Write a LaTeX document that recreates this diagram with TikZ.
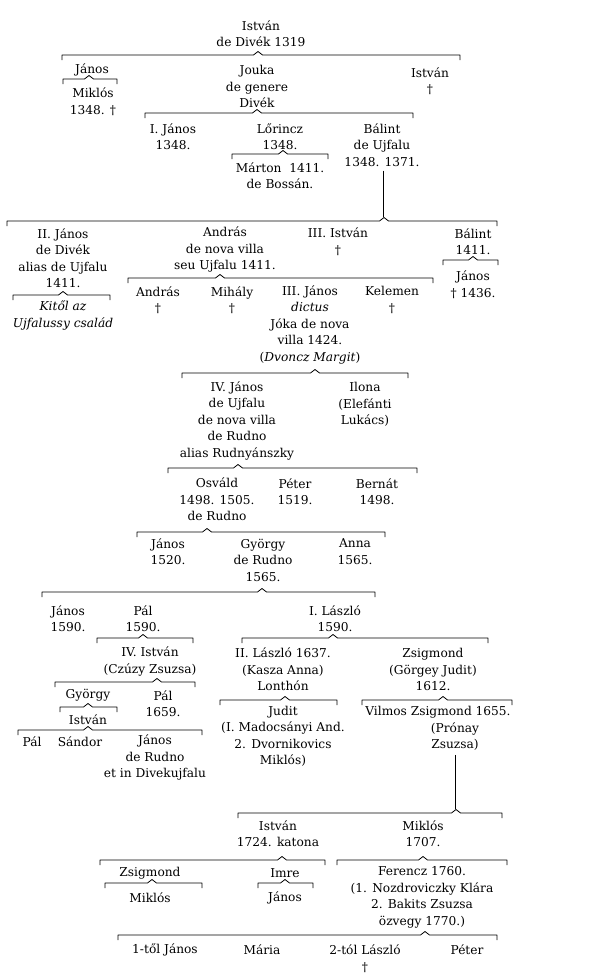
\documentclass[tikz,border=0pt]{standalone}
\usepackage{fontspec}
\setmainfont{DejaVu Serif}
\usepackage{tikz}
\newcommand\famb[4]{\draw[brk] (#1,#4+5) -- (#1,#4) -- (#3-4.5,#4) -- (#3,#4-3.5) -- (#3+4.5,#4) -- (#2,#4) -- (#2,#4+5);}
\tikzset{
  p/.style={inner sep=0pt, align=center, font=\fontsize{12.2}{16.5}\selectfont},
  brk/.style={line width=0.8pt, line join=round},
}
\begin{document}
\begin{tikzpicture}[x=1pt,y=-1pt]
\useasboundingbox[fill=white] (0,0) rectangle (613,980);
% generation 1
\node[p] (n1) at (261,33.5) {István\\de Divék 1319};
\famb{62}{460}{258}{55}
\node[p] (jan1) at (92,70) {János};
\famb{63}{117}{89}{79}
\node[p] (mik1) at (93,101.5) {Miklós\\1348. \textdagger};
\node[p] (jouka) at (257,86.5) {Jouka\\de genere\\Divék};
\node[p] (ist2) at (430,81) {István\\\textdagger};
\famb{145}{413}{257}{113}
\node[p] (ijan) at (173,136.5) {I. János\\1348.};
\node[p] (lor) at (280,136.5) {Lőrincz\\1348.};
\famb{232}{328}{283}{154}
\node[p] (mar) at (280,175.5) {Márton\ \ 1411.\\de Bossán.};
\node[p] (bal) at (382,145) {Bálint\\de Ujfalu\\1348. 1371.};
\coordinate (v1) at (383,217);
\draw[brk] (bal.south -| v1) ++(0,4) -- (v1);
\famb{7}{497}{384}{221}
\node[p] (iijan) at (63,258) {II. János\\de Divék\\alias de Ujfalu\\1411.};
\famb{13}{110}{63}{295}
\node[p,font=\fontsize{12.2}{16.5}\selectfont\itshape] (kitol) at (63,315.5) {Kitől az\\Ujfalussy család};
\node[p] (andr) at (225,249.5) {András\\de nova villa\\seu Ujfalu 1411.};
\famb{128}{433}{220}{278}
\node[p] (iiiist) at (338,241.5) {III. István\\\textdagger};
\node[p] (bal2) at (473,241.5) {Bálint\\1411.};
\famb{443}{498}{473}{260}
\node[p] (jan3) at (473,284.5) {János\\\textdagger{} 1436.};
\node[p] (andr2) at (158,300) {András\\\textdagger};
\node[p] (mih) at (232,300) {Mihály\\\textdagger};
\node[p] (iiijan) at (310,324.5) {III. János\\\textit{dictus}\\Jóka de nova\\villa 1424.\\(\textit{Dvoncz Margit})};
\node[p] (kel) at (392,300) {Kelemen\\\textdagger};
\famb{182}{408}{315}{373}
\node[p] (ivjan) at (237,420.5) {IV. János\\de Ujfalu\\de nova villa\\de Rudno\\alias Rudnyánszky};
\node[p] (ilona) at (365,404.5) {Ilona\\(Elefánti\\Lukács)};
\famb{168}{417}{238}{468}
\node[p] (osv) at (217,499.5) {Osváld\\1498. 1505.\\de Rudno};
\node[p] (pet) at (295,491.5) {Péter\\1519.};
\node[p] (bern) at (377,491.5) {Bernát\\1498.};
\famb{137}{385}{207}{532}
\node[p] (jan4) at (168,551.5) {János\\1520.};
\node[p] (gyo) at (263,560) {György\\de Rudno\\1565.};
\node[p] (anna) at (355,551.5) {Anna\\1565.};
\famb{42}{375}{262}{592}
\node[p] (jan5) at (68,618.5) {János\\1590.};
\node[p] (pal) at (143,618.5) {Pál\\1590.};
\node[p] (ilaszlo) at (335,618.5) {I. László\\1590.};
\famb{97}{193}{143}{638}
\famb{242}{488}{333}{638}
\node[p] (ivist) at (150,661.5) {IV. István\\(Czúzy Zsuzsa)};
\famb{55}{195}{157}{682}
\node[p] (gyo2) at (88,695) {György};
\famb{60}{117}{88}{707}
\node[p] (ist3) at (88,720) {István};
\node[p] (pal2) at (163,703.5) {Pál\\1659.};
\famb{18}{202}{88}{730}
\node[p] (pal3) at (32,742) {Pál};
\node[p] (sand) at (80,742) {Sándor};
\node[p] (jan6) at (155,757.5) {János\\de Rudno\\et in Divekujfalu};
\node[p] (iilaszlo) at (283,669.5) {II. László 1637.\\(Kasza Anna)\\Lonthón};
\famb{220}{337}{285}{700}
\node[p] (judit) at (283,736.5) {Judit\\(I. Madocsányi And.\\2. Dvornikovics\\Miklós)};
\node[p] (zsig) at (433,669.5) {Zsigmond\\(Görgey Judit)\\1612.};
\famb{362}{512}{443}{700}
\node[p] (vil) at (438,712) {Vilmos Zsigmond 1655.};
\node[p] (pron) at (455,736.5) {(Prónay\\Zsuzsa)};
\coordinate (v2) at (455,809);
\draw[brk] (pron.south -| v2) ++(0,4) -- (v2);
\famb{238}{502}{456}{813}
\node[p] (ist4) at (278,833.5) {István\\1724. katona};
\node[p] (mik2) at (423,833.5) {Miklós\\1707.};
\famb{100}{325}{282}{860}
\famb{337}{507}{423}{860}
\node[p] (zsig2) at (150,873) {Zsigmond};
\famb{105}{202}{152}{883}
\node[p] (mik3) at (150,898) {Miklós};
\node[p] (imre) at (285,873) {Imre};
\famb{258}{313}{285}{883}
\node[p] (jan7) at (285,898) {János};
\node[p] (fer) at (422,897.5) {Ferencz 1760.\\(1. Nozdroviczky Klára\\2. Bakits Zsuzsa\\özvegy 1770.)};
\famb{118}{497}{425}{935}
\node[p] (c1) at (165,950) {1-től János};
\node[p] (c2) at (262,950) {Mária};
\node[p] (c3) at (365,958.5) {2-tól László\\\textdagger};
\node[p] (c4) at (467,950) {Péter};
\end{tikzpicture}
\end{document}
